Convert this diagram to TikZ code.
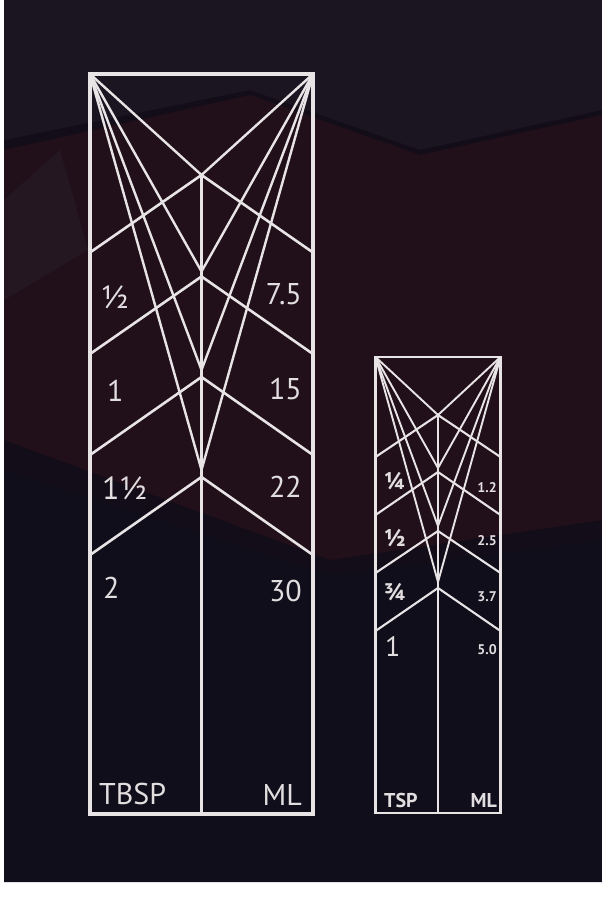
\documentclass[tikz,border=0pt]{standalone}
\usepackage{fontspec}
\setmainfont{PT Sans}
\definecolor{linec}{HTML}{E8E4E6}
\definecolor{textc}{HTML}{E2DEE0}
\definecolor{bgbase}{HTML}{120D18}
\definecolor{bgred}{HTML}{25111A}
\definecolor{bgtop}{HTML}{1A1520}
\definecolor{bggrey}{HTML}{2A2630}
\definecolor{bgnavy}{HTML}{100E1A}
\begin{document}
\begin{tikzpicture}[x=1pt,y=-1pt,
  bigframe/.style={draw=linec, line width=3.2pt},
  bigfan/.style={draw=linec, line width=2.4pt, line cap=round},
  bigchev/.style={draw=linec, line width=2.6pt, line join=miter},
  smallframe/.style={draw=linec, line width=2.6pt},
  smallfan/.style={draw=linec, line width=1.9pt, line cap=round},
  smallchev/.style={draw=linec, line width=2.1pt},
  lab/.style={text=textc, inner sep=0pt},
  bigl/.style={lab, anchor=west, font=\fontsize{30}{30}\selectfont},
  bigfrac/.style={lab, anchor=west, font=\fontsize{32}{32}\selectfont},
  bigr/.style={lab, anchor=east, font=\fontsize{30}{30}\selectfont},
  smfrac/.style={lab, anchor=west, font=\bfseries\fontsize{24}{24}\selectfont},
  smone/.style={lab, anchor=west, font=\fontsize{28}{28}\selectfont},
  smr/.style={lab, anchor=east, font=\bfseries\fontsize{14}{14}\selectfont},
  smhead/.style={lab, font=\bfseries\fontsize{20}{20}\selectfont}]
\useasboundingbox (0,0) rectangle (602,897);
% background
\fill[white] (0,0) rectangle (602,897);
\fill[bgbase] (4,0) rectangle (602,882);
\fill[bgtop] (4,0) -- (602,0) -- (602,110) -- (420,150) -- (250,90) -- (4,140) -- cycle;
\fill[bgred, opacity=0.8] (4,150) -- (250,95) -- (420,155) -- (602,115) -- (602,520) -- (330,560) -- (4,440) -- cycle;
\fill[bggrey, opacity=0.35] (4,200) -- (60,150) -- (88,250) -- (4,300) -- cycle;
\fill[bgnavy] (4,470) -- (330,575) -- (602,540) -- (602,882) -- (4,882) -- cycle;
% ---------------- big chart ----------------
\coordinate (BTL) at (90,74);
\coordinate (BTR) at (313,74);
\coordinate (BBL) at (90,814);
\coordinate (BBR) at (313,814);
\coordinate (BB)  at (201.5,814);
\coordinate (BA1) at (201.5,175);
\coordinate (BA2) at (201.5,276.5);
\coordinate (BA3) at (201.5,377);
\coordinate (BA4) at (201.5,477);
\coordinate (BV2) at (201.5,271.5);
\coordinate (BV3) at (201.5,370);
\coordinate (BV4) at (201.5,470);
\coordinate (BL1) at (90,252.5);  \coordinate (BR1) at (313,252.5);
\coordinate (BL2) at (90,354);    \coordinate (BR2) at (313,354);
\coordinate (BL3) at (90,455);    \coordinate (BR3) at (313,455);
\coordinate (BL4) at (90,555);    \coordinate (BR4) at (313,555);
\foreach \v in {BA1,BV2,BV3,BV4}{
  \draw[bigfan] (BTL) -- (\v);
  \draw[bigfan] (BTR) -- (\v);
}
\foreach \i in {1,2,3,4}{
  \draw[bigchev] (BL\i) -- (BA\i) -- (BR\i);
}
\draw[bigframe] (BA1) -- (BB);
\draw[bigframe] (BTL) -- (BTR) -- (BBR) -- (BBL) -- cycle;
% big labels
\node[bigfrac] (bl1) at (101,297) {½};
\node[bigl]    (bl2) at (107,391) {1};
\node[bigfrac] (bl3) at (102,488) {1½};
\node[bigl]    (bl4) at (103,588) {2};
\node[bigl]    (bl5) at (99,794) {TBSP};
\node[bigr]    (br1) at (302,294) {7.5};
\node[bigr]    (br2) at (302,389) {15};
\node[bigr]    (br3) at (302,487) {22};
\node[bigr]    (br4) at (302,591) {30};
\node[bigr]    (br5) at (302,795) {ML};
% ---------------- small chart ----------------
\coordinate (STL) at (375.5,357);
\coordinate (STR) at (500.5,357);
\coordinate (SBL) at (375.5,813);
\coordinate (SBR) at (500.5,813);
\coordinate (SB)  at (438,813);
\coordinate (SA1) at (438,415);
\coordinate (SA2) at (438,472);
\coordinate (SA3) at (438,531);
\coordinate (SA4) at (438,588);
\coordinate (SV2) at (438,468);
\coordinate (SV3) at (438,526);
\coordinate (SV4) at (438,582);
\coordinate (SL1) at (375.5,457); \coordinate (SR1) at (500.5,457);
\coordinate (SL2) at (375.5,515); \coordinate (SR2) at (500.5,515);
\coordinate (SL3) at (375.5,573); \coordinate (SR3) at (500.5,573);
\coordinate (SL4) at (375.5,631); \coordinate (SR4) at (500.5,631);
\foreach \v in {SA1,SV2,SV3,SV4}{
  \draw[smallfan] (STL) -- (\v);
  \draw[smallfan] (STR) -- (\v);
}
\foreach \i in {1,2,3,4}{
  \draw[smallchev] (SL\i) -- (SA\i) -- (SR\i);
}
\draw[smallframe] (SA1) -- (SB);
\draw[smallframe] (STL) -- (STR) -- (SBR) -- (SBL) -- cycle;
% small labels
\node[smfrac] (sl1) at (384,481) {¼};
\node[smfrac] (sl2) at (384,538) {½};
\node[smfrac] (sl3) at (384,592) {¾};
\node[smone]  (sl4) at (385,647) {1};
\node[smhead, anchor=west] (sl5) at (384,800) {TSP};
\node[smr] (sr1) at (497,488) {1.2};
\node[smr] (sr2) at (497,540.5) {2.5};
\node[smr] (sr3) at (497,597) {3.7};
\node[smr] (sr4) at (497,650) {5.0};
\node[smhead, anchor=east] (sr5) at (497,800) {ML};
\end{tikzpicture}
\end{document}
